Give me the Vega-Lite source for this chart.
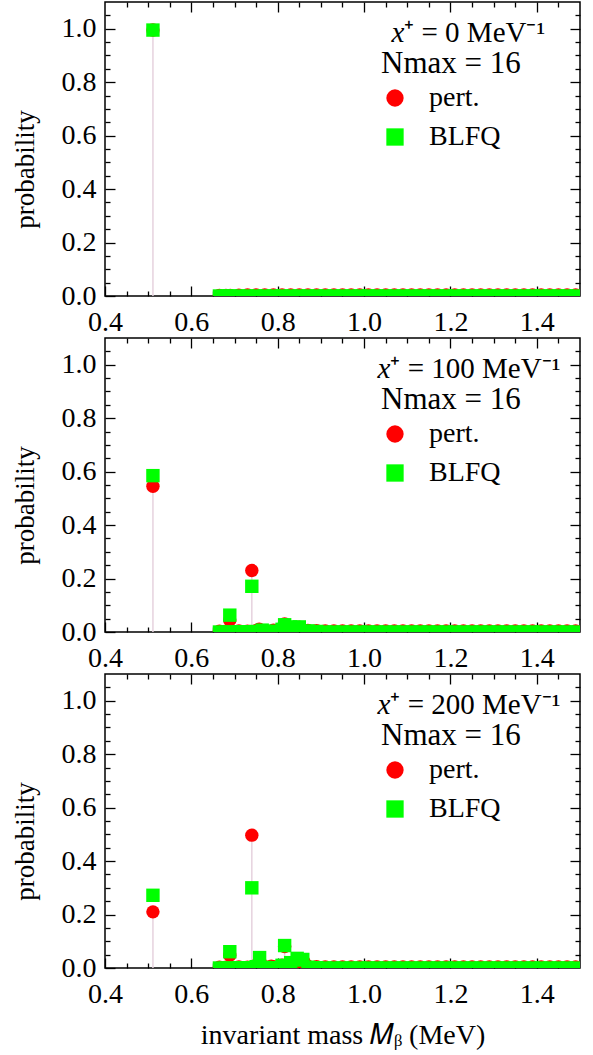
{
  "$schema": "https://vega.github.io/schema/vega-lite/v6.json",
  "padding": {"left": 10, "top": 0, "right": 11, "bottom": 5},
  "data": {"values": [
    {"t":0,"s":"pert.","m":0.511,"p":0.995},
    {"t":0,"s":"BLFQ","m":0.511,"p":0.995},
    {"t":0,"s":"pert.","m":0.665,"p":0.002},{"t":0,"s":"pert.","m":0.68,"p":0.002},{"t":0,"s":"pert.","m":0.69,"p":0.002},{"t":0,"s":"pert.","m":0.71,"p":0.003},{"t":0,"s":"pert.","m":0.73,"p":0.004},{"t":0,"s":"pert.","m":0.75,"p":0.004},{"t":0,"s":"pert.","m":0.77,"p":0.004},{"t":0,"s":"pert.","m":0.79,"p":0.004},{"t":0,"s":"pert.","m":0.81,"p":0.004},{"t":0,"s":"pert.","m":0.83,"p":0.004},{"t":0,"s":"pert.","m":0.85,"p":0.004},{"t":0,"s":"pert.","m":0.87,"p":0.004},{"t":0,"s":"pert.","m":0.89,"p":0.004},{"t":0,"s":"pert.","m":0.91,"p":0.004},{"t":0,"s":"pert.","m":0.93,"p":0.004},{"t":0,"s":"pert.","m":0.95,"p":0.004},{"t":0,"s":"pert.","m":0.97,"p":0.004},{"t":0,"s":"pert.","m":0.99,"p":0.004},{"t":0,"s":"pert.","m":1.01,"p":0.004},{"t":0,"s":"pert.","m":1.03,"p":0.004},{"t":0,"s":"pert.","m":1.05,"p":0.004},{"t":0,"s":"pert.","m":1.07,"p":0.004},{"t":0,"s":"pert.","m":1.09,"p":0.004},{"t":0,"s":"pert.","m":1.11,"p":0.004},{"t":0,"s":"pert.","m":1.13,"p":0.004},{"t":0,"s":"pert.","m":1.15,"p":0.004},{"t":0,"s":"pert.","m":1.17,"p":0.004},{"t":0,"s":"pert.","m":1.19,"p":0.004},{"t":0,"s":"pert.","m":1.21,"p":0.004},{"t":0,"s":"pert.","m":1.23,"p":0.004},{"t":0,"s":"pert.","m":1.25,"p":0.004},{"t":0,"s":"pert.","m":1.27,"p":0.004},{"t":0,"s":"pert.","m":1.29,"p":0.004},{"t":0,"s":"pert.","m":1.31,"p":0.004},{"t":0,"s":"pert.","m":1.33,"p":0.004},{"t":0,"s":"pert.","m":1.35,"p":0.004},{"t":0,"s":"pert.","m":1.37,"p":0.004},{"t":0,"s":"pert.","m":1.39,"p":0.004},{"t":0,"s":"pert.","m":1.41,"p":0.004},{"t":0,"s":"pert.","m":1.43,"p":0.004},{"t":0,"s":"pert.","m":1.45,"p":0.004},{"t":0,"s":"pert.","m":1.47,"p":0.004},{"t":0,"s":"pert.","m":1.49,"p":0.004},
    {"t":0,"s":"BLFQ","m":0.665,"p":0.0},{"t":0,"s":"BLFQ","m":0.68,"p":0.0},{"t":0,"s":"BLFQ","m":0.69,"p":0.0},{"t":0,"s":"BLFQ","m":0.71,"p":0.0},{"t":0,"s":"BLFQ","m":0.73,"p":0.0},{"t":0,"s":"BLFQ","m":0.75,"p":0.0},{"t":0,"s":"BLFQ","m":0.77,"p":0.0},{"t":0,"s":"BLFQ","m":0.79,"p":0.0},{"t":0,"s":"BLFQ","m":0.81,"p":0.0},{"t":0,"s":"BLFQ","m":0.83,"p":0.0},{"t":0,"s":"BLFQ","m":0.85,"p":0.0},{"t":0,"s":"BLFQ","m":0.87,"p":0.0},{"t":0,"s":"BLFQ","m":0.89,"p":0.0},{"t":0,"s":"BLFQ","m":0.91,"p":0.0},{"t":0,"s":"BLFQ","m":0.93,"p":0.0},{"t":0,"s":"BLFQ","m":0.95,"p":0.0},{"t":0,"s":"BLFQ","m":0.97,"p":0.0},{"t":0,"s":"BLFQ","m":0.99,"p":0.0},{"t":0,"s":"BLFQ","m":1.01,"p":0.0},{"t":0,"s":"BLFQ","m":1.03,"p":0.0},{"t":0,"s":"BLFQ","m":1.05,"p":0.0},{"t":0,"s":"BLFQ","m":1.07,"p":0.0},{"t":0,"s":"BLFQ","m":1.09,"p":0.0},{"t":0,"s":"BLFQ","m":1.11,"p":0.0},{"t":0,"s":"BLFQ","m":1.13,"p":0.0},{"t":0,"s":"BLFQ","m":1.15,"p":0.0},{"t":0,"s":"BLFQ","m":1.17,"p":0.0},{"t":0,"s":"BLFQ","m":1.19,"p":0.0},{"t":0,"s":"BLFQ","m":1.21,"p":0.0},{"t":0,"s":"BLFQ","m":1.23,"p":0.0},{"t":0,"s":"BLFQ","m":1.25,"p":0.0},{"t":0,"s":"BLFQ","m":1.27,"p":0.0},{"t":0,"s":"BLFQ","m":1.29,"p":0.0},{"t":0,"s":"BLFQ","m":1.31,"p":0.0},{"t":0,"s":"BLFQ","m":1.33,"p":0.0},{"t":0,"s":"BLFQ","m":1.35,"p":0.0},{"t":0,"s":"BLFQ","m":1.37,"p":0.0},{"t":0,"s":"BLFQ","m":1.39,"p":0.0},{"t":0,"s":"BLFQ","m":1.41,"p":0.0},{"t":0,"s":"BLFQ","m":1.43,"p":0.0},{"t":0,"s":"BLFQ","m":1.45,"p":0.0},{"t":0,"s":"BLFQ","m":1.47,"p":0.0},{"t":0,"s":"BLFQ","m":1.49,"p":0.0},

    {"t":100,"s":"pert.","m":0.511,"p":0.545},{"t":100,"s":"pert.","m":0.689,"p":0.045},{"t":100,"s":"pert.","m":0.74,"p":0.23},{"t":100,"s":"pert.","m":0.757,"p":0.01},{"t":100,"s":"pert.","m":0.816,"p":0.03},
    {"t":100,"s":"pert.","m":0.665,"p":0.003},{"t":100,"s":"pert.","m":0.68,"p":0.003},{"t":100,"s":"pert.","m":0.69,"p":0.003},{"t":100,"s":"pert.","m":0.71,"p":0.004},{"t":100,"s":"pert.","m":0.73,"p":0.003},{"t":100,"s":"pert.","m":0.75,"p":0.005},{"t":100,"s":"pert.","m":0.77,"p":0.005},{"t":100,"s":"pert.","m":0.79,"p":0.007},{"t":100,"s":"pert.","m":0.81,"p":0.012},{"t":100,"s":"pert.","m":0.83,"p":0.012},{"t":100,"s":"pert.","m":0.85,"p":0.018},{"t":100,"s":"pert.","m":0.87,"p":0.006},{"t":100,"s":"pert.","m":0.89,"p":0.005},{"t":100,"s":"pert.","m":0.91,"p":0.004},{"t":100,"s":"pert.","m":0.93,"p":0.004},{"t":100,"s":"pert.","m":0.95,"p":0.004},{"t":100,"s":"pert.","m":0.97,"p":0.004},{"t":100,"s":"pert.","m":0.99,"p":0.004},{"t":100,"s":"pert.","m":1.01,"p":0.004},{"t":100,"s":"pert.","m":1.03,"p":0.004},{"t":100,"s":"pert.","m":1.05,"p":0.004},{"t":100,"s":"pert.","m":1.07,"p":0.004},{"t":100,"s":"pert.","m":1.09,"p":0.004},{"t":100,"s":"pert.","m":1.11,"p":0.004},{"t":100,"s":"pert.","m":1.13,"p":0.004},{"t":100,"s":"pert.","m":1.15,"p":0.004},{"t":100,"s":"pert.","m":1.17,"p":0.004},{"t":100,"s":"pert.","m":1.19,"p":0.004},{"t":100,"s":"pert.","m":1.21,"p":0.004},{"t":100,"s":"pert.","m":1.23,"p":0.004},{"t":100,"s":"pert.","m":1.25,"p":0.004},{"t":100,"s":"pert.","m":1.27,"p":0.004},{"t":100,"s":"pert.","m":1.29,"p":0.004},{"t":100,"s":"pert.","m":1.31,"p":0.004},{"t":100,"s":"pert.","m":1.33,"p":0.004},{"t":100,"s":"pert.","m":1.35,"p":0.004},{"t":100,"s":"pert.","m":1.37,"p":0.004},{"t":100,"s":"pert.","m":1.39,"p":0.004},{"t":100,"s":"pert.","m":1.41,"p":0.004},{"t":100,"s":"pert.","m":1.43,"p":0.004},{"t":100,"s":"pert.","m":1.45,"p":0.004},{"t":100,"s":"pert.","m":1.47,"p":0.004},{"t":100,"s":"pert.","m":1.49,"p":0.004},
    {"t":100,"s":"BLFQ","m":0.511,"p":0.585},{"t":100,"s":"BLFQ","m":0.689,"p":0.063},{"t":100,"s":"BLFQ","m":0.74,"p":0.171},{"t":100,"s":"BLFQ","m":0.764,"p":0.007},{"t":100,"s":"BLFQ","m":0.816,"p":0.027},
    {"t":100,"s":"BLFQ","m":0.665,"p":0.0},{"t":100,"s":"BLFQ","m":0.68,"p":0.0},{"t":100,"s":"BLFQ","m":0.69,"p":0.0},{"t":100,"s":"BLFQ","m":0.71,"p":0.001},{"t":100,"s":"BLFQ","m":0.73,"p":0.001},{"t":100,"s":"BLFQ","m":0.75,"p":0.002},{"t":100,"s":"BLFQ","m":0.77,"p":0.002},{"t":100,"s":"BLFQ","m":0.79,"p":0.003},{"t":100,"s":"BLFQ","m":0.81,"p":0.01},{"t":100,"s":"BLFQ","m":0.83,"p":0.019},{"t":100,"s":"BLFQ","m":0.85,"p":0.019},{"t":100,"s":"BLFQ","m":0.87,"p":0.004},{"t":100,"s":"BLFQ","m":0.89,"p":0.002},{"t":100,"s":"BLFQ","m":0.91,"p":0.0},{"t":100,"s":"BLFQ","m":0.93,"p":0.0},{"t":100,"s":"BLFQ","m":0.95,"p":0.0},{"t":100,"s":"BLFQ","m":0.97,"p":0.0},{"t":100,"s":"BLFQ","m":0.99,"p":0.0},{"t":100,"s":"BLFQ","m":1.01,"p":0.0},{"t":100,"s":"BLFQ","m":1.03,"p":0.0},{"t":100,"s":"BLFQ","m":1.05,"p":0.0},{"t":100,"s":"BLFQ","m":1.07,"p":0.0},{"t":100,"s":"BLFQ","m":1.09,"p":0.0},{"t":100,"s":"BLFQ","m":1.11,"p":0.0},{"t":100,"s":"BLFQ","m":1.13,"p":0.0},{"t":100,"s":"BLFQ","m":1.15,"p":0.0},{"t":100,"s":"BLFQ","m":1.17,"p":0.0},{"t":100,"s":"BLFQ","m":1.19,"p":0.0},{"t":100,"s":"BLFQ","m":1.21,"p":0.0},{"t":100,"s":"BLFQ","m":1.23,"p":0.0},{"t":100,"s":"BLFQ","m":1.25,"p":0.0},{"t":100,"s":"BLFQ","m":1.27,"p":0.0},{"t":100,"s":"BLFQ","m":1.29,"p":0.0},{"t":100,"s":"BLFQ","m":1.31,"p":0.0},{"t":100,"s":"BLFQ","m":1.33,"p":0.0},{"t":100,"s":"BLFQ","m":1.35,"p":0.0},{"t":100,"s":"BLFQ","m":1.37,"p":0.0},{"t":100,"s":"BLFQ","m":1.39,"p":0.0},{"t":100,"s":"BLFQ","m":1.41,"p":0.0},{"t":100,"s":"BLFQ","m":1.43,"p":0.0},{"t":100,"s":"BLFQ","m":1.45,"p":0.0},{"t":100,"s":"BLFQ","m":1.47,"p":0.0},{"t":100,"s":"BLFQ","m":1.49,"p":0.0},

    {"t":200,"s":"pert.","m":0.511,"p":0.21},{"t":200,"s":"pert.","m":0.689,"p":0.048},{"t":200,"s":"pert.","m":0.74,"p":0.497},{"t":200,"s":"pert.","m":0.758,"p":0.03},{"t":200,"s":"pert.","m":0.816,"p":0.08},{"t":200,"s":"pert.","m":0.845,"p":0.03},{"t":200,"s":"pert.","m":0.86,"p":0.025},
    {"t":200,"s":"pert.","m":0.665,"p":0.003},{"t":200,"s":"pert.","m":0.68,"p":0.003},{"t":200,"s":"pert.","m":0.69,"p":0.003},{"t":200,"s":"pert.","m":0.71,"p":0.004},{"t":200,"s":"pert.","m":0.73,"p":0.003},{"t":200,"s":"pert.","m":0.75,"p":0.01},{"t":200,"s":"pert.","m":0.77,"p":0.005},{"t":200,"s":"pert.","m":0.785,"p":0.007},{"t":200,"s":"pert.","m":0.79,"p":0.005},{"t":200,"s":"pert.","m":0.81,"p":0.01},{"t":200,"s":"pert.","m":0.83,"p":0.012},{"t":200,"s":"pert.","m":0.85,"p":0.02},{"t":200,"s":"pert.","m":0.87,"p":0.007},{"t":200,"s":"pert.","m":0.89,"p":0.005},{"t":200,"s":"pert.","m":0.91,"p":0.004},{"t":200,"s":"pert.","m":0.93,"p":0.004},{"t":200,"s":"pert.","m":0.95,"p":0.004},{"t":200,"s":"pert.","m":0.97,"p":0.004},{"t":200,"s":"pert.","m":0.99,"p":0.004},{"t":200,"s":"pert.","m":1.01,"p":0.004},{"t":200,"s":"pert.","m":1.03,"p":0.004},{"t":200,"s":"pert.","m":1.05,"p":0.004},{"t":200,"s":"pert.","m":1.07,"p":0.004},{"t":200,"s":"pert.","m":1.09,"p":0.004},{"t":200,"s":"pert.","m":1.11,"p":0.004},{"t":200,"s":"pert.","m":1.13,"p":0.004},{"t":200,"s":"pert.","m":1.15,"p":0.004},{"t":200,"s":"pert.","m":1.17,"p":0.004},{"t":200,"s":"pert.","m":1.19,"p":0.004},{"t":200,"s":"pert.","m":1.21,"p":0.004},{"t":200,"s":"pert.","m":1.23,"p":0.004},{"t":200,"s":"pert.","m":1.25,"p":0.004},{"t":200,"s":"pert.","m":1.27,"p":0.004},{"t":200,"s":"pert.","m":1.29,"p":0.004},{"t":200,"s":"pert.","m":1.31,"p":0.004},{"t":200,"s":"pert.","m":1.33,"p":0.004},{"t":200,"s":"pert.","m":1.35,"p":0.004},{"t":200,"s":"pert.","m":1.37,"p":0.004},{"t":200,"s":"pert.","m":1.39,"p":0.004},{"t":200,"s":"pert.","m":1.41,"p":0.004},{"t":200,"s":"pert.","m":1.43,"p":0.004},{"t":200,"s":"pert.","m":1.45,"p":0.004},{"t":200,"s":"pert.","m":1.47,"p":0.004},{"t":200,"s":"pert.","m":1.49,"p":0.004},
    {"t":200,"s":"BLFQ","m":0.511,"p":0.272},{"t":200,"s":"BLFQ","m":0.689,"p":0.061},{"t":200,"s":"BLFQ","m":0.74,"p":0.3},{"t":200,"s":"BLFQ","m":0.758,"p":0.039},{"t":200,"s":"BLFQ","m":0.816,"p":0.084},{"t":200,"s":"BLFQ","m":0.845,"p":0.036},{"t":200,"s":"BLFQ","m":0.858,"p":0.032},
    {"t":200,"s":"BLFQ","m":0.665,"p":0.0},{"t":200,"s":"BLFQ","m":0.68,"p":0.0},{"t":200,"s":"BLFQ","m":0.69,"p":0.0},{"t":200,"s":"BLFQ","m":0.71,"p":0.001},{"t":200,"s":"BLFQ","m":0.73,"p":0.001},{"t":200,"s":"BLFQ","m":0.75,"p":0.005},{"t":200,"s":"BLFQ","m":0.77,"p":0.002},{"t":200,"s":"BLFQ","m":0.79,"p":0.001},{"t":200,"s":"BLFQ","m":0.81,"p":0.01},{"t":200,"s":"BLFQ","m":0.83,"p":0.02},{"t":200,"s":"BLFQ","m":0.85,"p":0.03},{"t":200,"s":"BLFQ","m":0.87,"p":0.003},{"t":200,"s":"BLFQ","m":0.89,"p":0.001},{"t":200,"s":"BLFQ","m":0.91,"p":0.0},{"t":200,"s":"BLFQ","m":0.93,"p":0.0},{"t":200,"s":"BLFQ","m":0.95,"p":0.0},{"t":200,"s":"BLFQ","m":0.97,"p":0.0},{"t":200,"s":"BLFQ","m":0.99,"p":0.0},{"t":200,"s":"BLFQ","m":1.01,"p":0.0},{"t":200,"s":"BLFQ","m":1.03,"p":0.0},{"t":200,"s":"BLFQ","m":1.05,"p":0.0},{"t":200,"s":"BLFQ","m":1.07,"p":0.0},{"t":200,"s":"BLFQ","m":1.09,"p":0.0},{"t":200,"s":"BLFQ","m":1.11,"p":0.0},{"t":200,"s":"BLFQ","m":1.13,"p":0.0},{"t":200,"s":"BLFQ","m":1.15,"p":0.0},{"t":200,"s":"BLFQ","m":1.17,"p":0.0},{"t":200,"s":"BLFQ","m":1.19,"p":0.0},{"t":200,"s":"BLFQ","m":1.21,"p":0.0},{"t":200,"s":"BLFQ","m":1.23,"p":0.0},{"t":200,"s":"BLFQ","m":1.25,"p":0.0},{"t":200,"s":"BLFQ","m":1.27,"p":0.0},{"t":200,"s":"BLFQ","m":1.29,"p":0.0},{"t":200,"s":"BLFQ","m":1.31,"p":0.0},{"t":200,"s":"BLFQ","m":1.33,"p":0.0},{"t":200,"s":"BLFQ","m":1.35,"p":0.0},{"t":200,"s":"BLFQ","m":1.37,"p":0.0},{"t":200,"s":"BLFQ","m":1.39,"p":0.0},{"t":200,"s":"BLFQ","m":1.41,"p":0.0},{"t":200,"s":"BLFQ","m":1.43,"p":0.0},{"t":200,"s":"BLFQ","m":1.45,"p":0.0},{"t":200,"s":"BLFQ","m":1.47,"p":0.0},{"t":200,"s":"BLFQ","m":1.49,"p":0.0}
  ]},
  "spacing": 42,
  "bounds": "flush",
  "resolve": {"scale": {"color": "independent", "shape": "independent"}},
  "vconcat": [
    {
      "width": 475, "height": 294,
      "transform": [{"filter": "datum.t == 0"}],
      "layer": [
        {"mark": {"type": "rule", "color": "#e6d2de", "strokeWidth": 1.5, "clip": true},
         "transform": [{"filter": "datum.s == 'pert.'"}],
         "encoding": {
           "x": {"field": "m", "type": "quantitative", "scale": {"domain": [0.4, 1.5], "nice": false, "zero": false},
                 "axis": {"orient": "bottom", "values": [0.4, 0.6, 0.8, 1.0, 1.2, 1.4], "format": ".1f", "tickSize": -10, "labelPadding": 22, "labelFont": "Liberation Serif", "title": null, "labelFlush": false, "labelOverlap": false}},
           "y": {"field": "p", "type": "quantitative", "scale": {"domain": [0, 1.1], "nice": false},
                 "axis": {"orient": "left", "values": [0, 0.2, 0.4, 0.6, 0.8, 1.0], "format": ".1f", "tickSize": -10, "labelPadding": 19, "labelFont": "Liberation Serif", "title": "probability", "titleY": 167, "titlePadding": 22, "labelFlush": false, "labelOverlap": false}},
           "y2": {"datum": 0}
         }},
        {"mark": {"type": "point", "filled": true, "size": 180, "opacity": 1, "clip": true},
         "transform": [{"filter": "datum.s == 'pert.'"}],
         "encoding": {
           "x": {"field": "m", "type": "quantitative", "axis": {"orient": "bottom", "values": [0.45,0.5,0.55,0.65,0.7,0.75,0.85,0.9,0.95,1.05,1.1,1.15,1.25,1.3,1.35,1.45], "tickSize": -5, "labels": false, "title": null}},
           "y": {"field": "p", "type": "quantitative", "axis": {"orient": "left", "values": [0.05,0.1,0.15,0.25,0.3,0.35,0.45,0.5,0.55,0.65,0.7,0.75,0.85,0.9,0.95,1.05], "tickSize": -5, "labels": false, "title": null}},
           "color": {"field": "s", "type": "nominal", "scale": {"domain": ["pert.", "BLFQ"], "range": ["#ff0000", "#00ff00"]},
                     "legend": {"title": "Nmax = 16", "orient": "none", "legendX": 276, "legendY": 47, "titleFontSize": 31, "titleFontWeight": "normal", "titleColor": "black", "labelFontSize": 28, "labelColor": "black", "symbolSize": 300, "labelOffset": 20, "rowPadding": 11, "titlePadding": 4, "padding": 0, "symbolStrokeWidth": 0}},
           "shape": {"field": "s", "type": "nominal", "scale": {"domain": ["pert.", "BLFQ"], "range": ["circle", "square"]},
                     "legend": {"title": "Nmax = 16", "orient": "none", "legendX": 276, "legendY": 47, "titleFontSize": 31, "titleFontWeight": "normal", "titleColor": "black", "labelFontSize": 28, "labelColor": "black", "symbolSize": 300, "labelOffset": 20, "rowPadding": 11, "titlePadding": 4, "padding": 0, "symbolStrokeWidth": 0}}
         }},
        {"mark": {"type": "point", "filled": true, "size": 180, "opacity": 1, "clip": true},
         "transform": [{"filter": "datum.s == 'BLFQ'"}],
         "encoding": {
           "x": {"field": "m", "type": "quantitative", "axis": {"orient": "top", "values": [0.6, 0.8, 1.0, 1.2, 1.4], "tickSize": -10, "labels": false, "title": null}},
           "y": {"field": "p", "type": "quantitative", "axis": {"orient": "right", "values": [0.2, 0.4, 0.6, 0.8, 1.0], "tickSize": -10, "labels": false, "title": null}},
           "color": {"field": "s", "type": "nominal"},
           "shape": {"field": "s", "type": "nominal"}
         }},
        {"data": {"values": [{}]},
         "mark": {"type": "text", "text": "x", "fontStyle": "italic", "fontSize": 29, "align": "right", "baseline": "alphabetic", "color": "black"},
         "encoding": {
           "x": {"datum": 1.093, "type": "quantitative", "axis": {"orient": "top", "values": [0.45,0.5,0.55,0.65,0.7,0.75,0.85,0.9,0.95,1.05,1.1,1.15,1.25,1.3,1.35,1.45], "tickSize": -5, "labels": false, "title": null}},
           "y": {"datum": 0.95, "type": "quantitative", "axis": {"orient": "right", "values": [0.05,0.1,0.15,0.25,0.3,0.35,0.45,0.5,0.55,0.65,0.7,0.75,0.85,0.9,0.95,1.05], "tickSize": -5, "labels": false, "title": null}}
         }},
        {"data": {"values": [{}]},
         "mark": {"type": "text", "text": "⁺ = 0 MeV⁻¹", "fontSize": 29, "align": "left", "baseline": "alphabetic", "color": "black"},
         "encoding": {
           "x": {"datum": 1.093, "type": "quantitative", "axis": null},
           "y": {"datum": 0.95, "type": "quantitative", "axis": null}
         }}
      ],
      "resolve": {"axis": {"x": "independent", "y": "independent"}}
    },
    {
      "width": 475, "height": 294,
      "transform": [{"filter": "datum.t == 100"}],
      "layer": [
        {"mark": {"type": "rule", "color": "#e6d2de", "strokeWidth": 1.5, "clip": true},
         "transform": [{"filter": "datum.s == 'pert.'"}],
         "encoding": {
           "x": {"field": "m", "type": "quantitative", "scale": {"domain": [0.4, 1.5], "nice": false, "zero": false},
                 "axis": {"orient": "bottom", "values": [0.4, 0.6, 0.8, 1.0, 1.2, 1.4], "format": ".1f", "tickSize": -10, "labelPadding": 22, "labelFont": "Liberation Serif", "title": null, "labelFlush": false, "labelOverlap": false}},
           "y": {"field": "p", "type": "quantitative", "scale": {"domain": [0, 1.1], "nice": false},
                 "axis": {"orient": "left", "values": [0, 0.2, 0.4, 0.6, 0.8, 1.0], "format": ".1f", "tickSize": -10, "labelPadding": 19, "labelFont": "Liberation Serif", "title": "probability", "titleY": 167, "titlePadding": 22, "labelFlush": false, "labelOverlap": false}},
           "y2": {"datum": 0}
         }},
        {"mark": {"type": "point", "filled": true, "size": 180, "opacity": 1, "clip": true},
         "transform": [{"filter": "datum.s == 'pert.'"}],
         "encoding": {
           "x": {"field": "m", "type": "quantitative", "axis": {"orient": "bottom", "values": [0.45,0.5,0.55,0.65,0.7,0.75,0.85,0.9,0.95,1.05,1.1,1.15,1.25,1.3,1.35,1.45], "tickSize": -5, "labels": false, "title": null}},
           "y": {"field": "p", "type": "quantitative", "axis": {"orient": "left", "values": [0.05,0.1,0.15,0.25,0.3,0.35,0.45,0.5,0.55,0.65,0.7,0.75,0.85,0.9,0.95,1.05], "tickSize": -5, "labels": false, "title": null}},
           "color": {"field": "s", "type": "nominal", "scale": {"domain": ["pert.", "BLFQ"], "range": ["#ff0000", "#00ff00"]},
                     "legend": {"title": "Nmax = 16", "orient": "none", "legendX": 276, "legendY": 47, "titleFontSize": 31, "titleFontWeight": "normal", "titleColor": "black", "labelFontSize": 28, "labelColor": "black", "symbolSize": 300, "labelOffset": 20, "rowPadding": 11, "titlePadding": 4, "padding": 0, "symbolStrokeWidth": 0}},
           "shape": {"field": "s", "type": "nominal", "scale": {"domain": ["pert.", "BLFQ"], "range": ["circle", "square"]},
                     "legend": {"title": "Nmax = 16", "orient": "none", "legendX": 276, "legendY": 47, "titleFontSize": 31, "titleFontWeight": "normal", "titleColor": "black", "labelFontSize": 28, "labelColor": "black", "symbolSize": 300, "labelOffset": 20, "rowPadding": 11, "titlePadding": 4, "padding": 0, "symbolStrokeWidth": 0}}
         }},
        {"mark": {"type": "point", "filled": true, "size": 180, "opacity": 1, "clip": true},
         "transform": [{"filter": "datum.s == 'BLFQ'"}],
         "encoding": {
           "x": {"field": "m", "type": "quantitative", "axis": {"orient": "top", "values": [0.6, 0.8, 1.0, 1.2, 1.4], "tickSize": -10, "labels": false, "title": null}},
           "y": {"field": "p", "type": "quantitative", "axis": {"orient": "right", "values": [0.2, 0.4, 0.6, 0.8, 1.0], "tickSize": -10, "labels": false, "title": null}},
           "color": {"field": "s", "type": "nominal"},
           "shape": {"field": "s", "type": "nominal"}
         }},
        {"data": {"values": [{}]},
         "mark": {"type": "text", "text": "x", "fontStyle": "italic", "fontSize": 29, "align": "right", "baseline": "alphabetic", "color": "black"},
         "encoding": {
           "x": {"datum": 1.061, "type": "quantitative", "axis": {"orient": "top", "values": [0.45,0.5,0.55,0.65,0.7,0.75,0.85,0.9,0.95,1.05,1.1,1.15,1.25,1.3,1.35,1.45], "tickSize": -5, "labels": false, "title": null}},
           "y": {"datum": 0.95, "type": "quantitative", "axis": {"orient": "right", "values": [0.05,0.1,0.15,0.25,0.3,0.35,0.45,0.5,0.55,0.65,0.7,0.75,0.85,0.9,0.95,1.05], "tickSize": -5, "labels": false, "title": null}}
         }},
        {"data": {"values": [{}]},
         "mark": {"type": "text", "text": "⁺ = 100 MeV⁻¹", "fontSize": 29, "align": "left", "baseline": "alphabetic", "color": "black"},
         "encoding": {
           "x": {"datum": 1.061, "type": "quantitative", "axis": null},
           "y": {"datum": 0.95, "type": "quantitative", "axis": null}
         }}
      ],
      "resolve": {"axis": {"x": "independent", "y": "independent"}}
    },
    {
      "width": 475, "height": 294,
      "transform": [{"filter": "datum.t == 200"}],
      "layer": [
        {"mark": {"type": "rule", "color": "#e6d2de", "strokeWidth": 1.5, "clip": true},
         "transform": [{"filter": "datum.s == 'pert.'"}],
         "encoding": {
           "x": {"field": "m", "type": "quantitative", "scale": {"domain": [0.4, 1.5], "nice": false, "zero": false},
                 "axis": {"orient": "bottom", "values": [0.4, 0.6, 0.8, 1.0, 1.2, 1.4], "format": ".1f", "tickSize": -10, "labelPadding": 22, "labelFont": "Liberation Serif", "title": "invariant mass  𝑀ᵦ (MeV)", "titleFontSize": 28, "titlePadding": 13, "labelFlush": false, "labelOverlap": false}},
           "y": {"field": "p", "type": "quantitative", "scale": {"domain": [0, 1.1], "nice": false},
                 "axis": {"orient": "left", "values": [0, 0.2, 0.4, 0.6, 0.8, 1.0], "format": ".1f", "tickSize": -10, "labelPadding": 19, "labelFont": "Liberation Serif", "title": "probability", "titleY": 167, "titlePadding": 22, "labelFlush": false, "labelOverlap": false}},
           "y2": {"datum": 0}
         }},
        {"mark": {"type": "point", "filled": true, "size": 180, "opacity": 1, "clip": true},
         "transform": [{"filter": "datum.s == 'pert.'"}],
         "encoding": {
           "x": {"field": "m", "type": "quantitative", "axis": {"orient": "bottom", "values": [0.45,0.5,0.55,0.65,0.7,0.75,0.85,0.9,0.95,1.05,1.1,1.15,1.25,1.3,1.35,1.45], "tickSize": -5, "labels": false, "title": null}},
           "y": {"field": "p", "type": "quantitative", "axis": {"orient": "left", "values": [0.05,0.1,0.15,0.25,0.3,0.35,0.45,0.5,0.55,0.65,0.7,0.75,0.85,0.9,0.95,1.05], "tickSize": -5, "labels": false, "title": null}},
           "color": {"field": "s", "type": "nominal", "scale": {"domain": ["pert.", "BLFQ"], "range": ["#ff0000", "#00ff00"]},
                     "legend": {"title": "Nmax = 16", "orient": "none", "legendX": 276, "legendY": 47, "titleFontSize": 31, "titleFontWeight": "normal", "titleColor": "black", "labelFontSize": 28, "labelColor": "black", "symbolSize": 300, "labelOffset": 20, "rowPadding": 11, "titlePadding": 4, "padding": 0, "symbolStrokeWidth": 0}},
           "shape": {"field": "s", "type": "nominal", "scale": {"domain": ["pert.", "BLFQ"], "range": ["circle", "square"]},
                     "legend": {"title": "Nmax = 16", "orient": "none", "legendX": 276, "legendY": 47, "titleFontSize": 31, "titleFontWeight": "normal", "titleColor": "black", "labelFontSize": 28, "labelColor": "black", "symbolSize": 300, "labelOffset": 20, "rowPadding": 11, "titlePadding": 4, "padding": 0, "symbolStrokeWidth": 0}}
         }},
        {"mark": {"type": "point", "filled": true, "size": 180, "opacity": 1, "clip": true},
         "transform": [{"filter": "datum.s == 'BLFQ'"}],
         "encoding": {
           "x": {"field": "m", "type": "quantitative", "axis": {"orient": "top", "values": [0.6, 0.8, 1.0, 1.2, 1.4], "tickSize": -10, "labels": false, "title": null}},
           "y": {"field": "p", "type": "quantitative", "axis": {"orient": "right", "values": [0.2, 0.4, 0.6, 0.8, 1.0], "tickSize": -10, "labels": false, "title": null}},
           "color": {"field": "s", "type": "nominal"},
           "shape": {"field": "s", "type": "nominal"}
         }},
        {"data": {"values": [{}]},
         "mark": {"type": "text", "text": "x", "fontStyle": "italic", "fontSize": 29, "align": "right", "baseline": "alphabetic", "color": "black"},
         "encoding": {
           "x": {"datum": 1.061, "type": "quantitative", "axis": {"orient": "top", "values": [0.45,0.5,0.55,0.65,0.7,0.75,0.85,0.9,0.95,1.05,1.1,1.15,1.25,1.3,1.35,1.45], "tickSize": -5, "labels": false, "title": null}},
           "y": {"datum": 0.95, "type": "quantitative", "axis": {"orient": "right", "values": [0.05,0.1,0.15,0.25,0.3,0.35,0.45,0.5,0.55,0.65,0.7,0.75,0.85,0.9,0.95,1.05], "tickSize": -5, "labels": false, "title": null}}
         }},
        {"data": {"values": [{}]},
         "mark": {"type": "text", "text": "⁺ = 200 MeV⁻¹", "fontSize": 29, "align": "left", "baseline": "alphabetic", "color": "black"},
         "encoding": {
           "x": {"datum": 1.061, "type": "quantitative", "axis": null},
           "y": {"datum": 0.95, "type": "quantitative", "axis": null}
         }}
      ],
      "resolve": {"axis": {"x": "independent", "y": "independent"}}
    }
  ],
  "config": {
    "font": "Liberation Serif",
    "view": {"stroke": "black", "strokeWidth": 1.5},
    "axis": {"domain": false, "grid": false, "labelFont": "Liberation Serif", "labelFontSize": 28, "labelColor": "black", "tickColor": "black", "tickWidth": 1.3, "titleFont": "Liberation Serif", "titleFontSize": 27, "titleFontWeight": "normal", "titleColor": "black"},
    "legend": {"labelFont": "Liberation Serif", "titleFont": "Liberation Serif"},
    "text": {"font": "Liberation Serif"}
  }
}
